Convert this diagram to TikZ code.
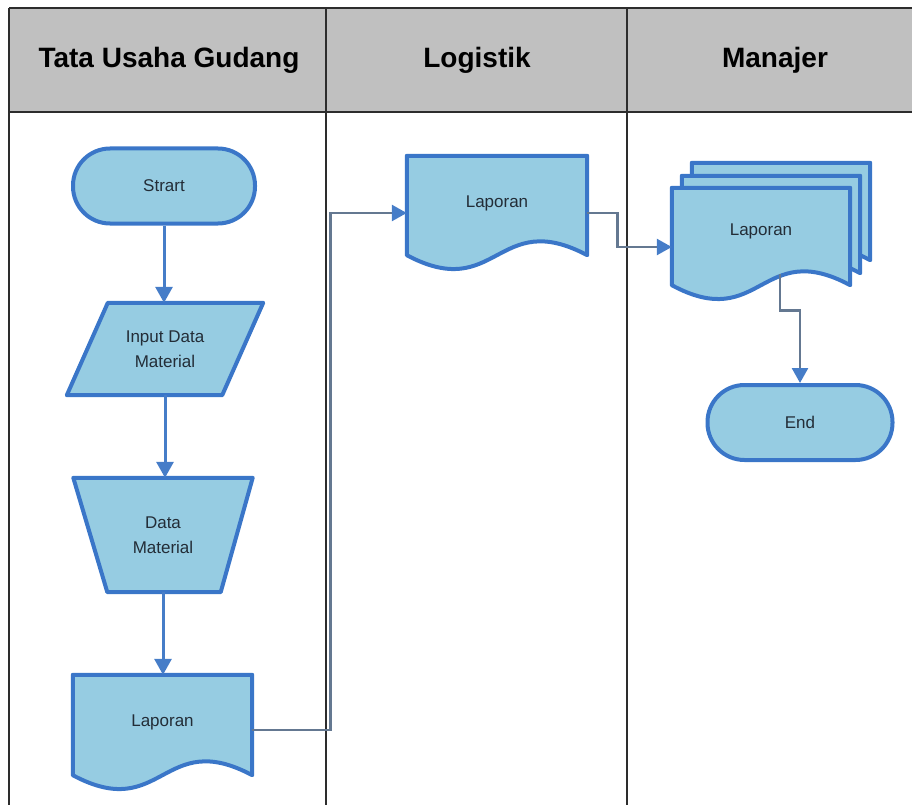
\documentclass[tikz,border=0pt]{standalone}
\usepackage{fontspec}
\setmainfont{Liberation Sans}
\usetikzlibrary{calc,arrows.meta,backgrounds}
\definecolor{hdrgray}{RGB}{192,192,192}
\definecolor{gridline}{RGB}{45,45,45}
\definecolor{shapefill}{RGB}{150,204,226}
\definecolor{shapeline}{RGB}{58,118,200}
\definecolor{arrowblue}{RGB}{70,125,200}
\definecolor{conngray}{RGB}{100,120,145}
\definecolor{shapetext}{RGB}{35,45,55}
\tikzset{
  hdrtext/.style={font=\fontsize{28}{32}\selectfont\bfseries, text=black},
  shapelabel/.style={font=\fontsize{17}{25}\selectfont, text=shapetext, align=center, inner sep=0pt},
  terminal/.style={shapelabel, draw=shapeline, fill=shapefill, line width=4pt, rounded corners=37pt},
  frame/.style={shapelabel, draw=none},
  outline/.style={draw=shapeline, fill=shapefill, line width=4pt, line join=round},
  varrow/.style={draw=arrowblue, line width=3pt, -{Triangle[width=17pt,length=16pt]}},
  oarrow/.style={draw=conngray, line width=2.6pt, -{Triangle[width=16pt,length=15pt,color=arrowblue]}},
  gline/.style={draw=gridline, line width=2pt}
}
\newcommand\docoutline[3]{%
  \path[outline] ($(#1.north west)+(#2,#3)$) -- ($(#1.north east)+(#2,#3)$) -- ($(#1.south east)+(#2,#3)$)
    .. controls ($(#1.south)+(#2,#3)+(0,-48)$) and ($(#1.south)+(#2,#3)+(0,48)$) .. ($(#1.south west)+(#2,#3)$) -- cycle;}
\begin{document}
\begin{tikzpicture}[x=1pt,y=-1pt]
\useasboundingbox (0,0) rectangle (912,805);
% header
\fill[hdrgray] (9,8) rectangle (912,112);
\draw[gline] (9,8) -- (912,8);
\draw[gline, line width=2.6pt] (9,112) -- (912,112);
\draw[gline] (9,8) -- (9,805);
\draw[gline] (326,8) -- (326,805);
\draw[gline] (627,8) -- (627,805);
\node[hdrtext] (h1) at (169,60) {Tata Usaha Gudang};
\node[hdrtext] (h2) at (477,60) {Logistik};
\node[hdrtext] (h3) at (775,60) {Manajer};
% lane 1
\node[terminal, minimum width=182pt, minimum height=75pt] (start) at (164,186) {Strart};
\node[frame, minimum width=155pt, minimum height=92pt] (input) at (165,349) {Input Data\\Material};
\node[frame, minimum width=179pt, minimum height=114pt] (manual) at (163,535) {Data\\Material};
\node[frame, minimum width=179pt, minimum height=100pt] (doc1) at (162.5,725) {\raisebox{8pt}{Laporan}};
% lane 2
\node[frame, minimum width=180pt, minimum height=99pt] (doc2) at (497,205.5) {\raisebox{8pt}{Laporan}};
% lane 3
\node[frame, minimum width=178pt, minimum height=97pt] (doc3) at (761,236.5) {\raisebox{14pt}{Laporan}};
\node[terminal, minimum width=185pt, minimum height=75pt] (end) at (800,422.5) {End};
% shape outlines
\begin{scope}[on background layer]
  \path[outline] ($(input.north west)+(20.5,0)$) -- ($(input.north east)+(20.5,0)$)
     -- ($(input.south east)+(-20.5,0)$) -- ($(input.south west)+(-20.5,0)$) -- cycle;
  \path[outline] (manual.north west) -- (manual.north east)
     -- ($(manual.south east)+(-32,0)$) -- ($(manual.south west)+(34,0)$) -- cycle;
  \docoutline{doc1}{0}{0}
  \docoutline{doc2}{0}{0}
  \docoutline{doc3}{20}{-25}
  \docoutline{doc3}{10}{-12}
  \docoutline{doc3}{0}{0}
\end{scope}
% connectors
\draw[varrow] (start.south) -- (start.south |- input.north);
\draw[varrow] (input.south) -- (input.south |- manual.north);
\draw[varrow] (manual.south) -- (manual.south |- doc1.north);
\draw[oarrow] ([yshift=-5pt]doc1.east) -- ++(78,0) |- ([yshift=-7.5pt]doc2.west);
\draw[oarrow] ([yshift=-7.5pt]doc2.east) -- ++(30,0) |- ([yshift=-10.5pt]doc3.west);
\draw[oarrow] ([xshift=19pt,yshift=11pt]doc3.south) -- ++(0,36) -| (end.north);
\end{tikzpicture}
\end{document}
